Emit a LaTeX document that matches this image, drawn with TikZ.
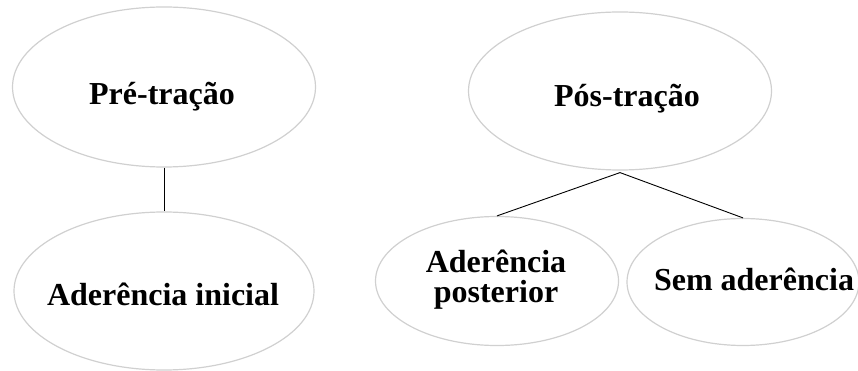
\documentclass[tikz,border=0pt]{standalone}
\usepackage{fontspec}
\setmainfont{Liberation Serif}
\usetikzlibrary{shapes.geometric}
\definecolor{ringgray}{RGB}{208,208,208}
\tikzset{
  oval/.style={ellipse, draw=ringgray, line width=1.2pt, inner sep=0pt},
  lbl/.style={font=\fontsize{32}{30}\selectfont\bfseries, inner sep=0pt, anchor=base, align=center},
  link/.style={draw=black, line width=0.9pt}
}
\begin{document}
\begin{tikzpicture}[x=1pt,y=-1pt]
\useasboundingbox (0,0) rectangle (858,371);
% ellipses
\node[oval, minimum width=303pt, minimum height=160pt] (pre) at (164,87) {};
\node[oval, minimum width=300pt, minimum height=158pt] (ai) at (164,291) {};
\node[oval, minimum width=303pt, minimum height=158pt] (pos) at (620,91) {};
\node[oval, minimum width=243pt, minimum height=129pt] (ap) at (497,281) {};
\node[oval, minimum width=232pt, minimum height=127pt] (sa) at (743,282) {};
% texts
\node[lbl] (preT) at (162,105) {Pré-tração};
\node[lbl] (aiT) at (163,305) {Aderência inicial};
\node[lbl] (posT) at (627,107) {Pós-tração};
\node[lbl] (apT1) at (496,272) {Aderência};
\node[lbl] (apT2) at (496,302) {posterior};
\node[lbl] (saT) at (754,290) {Sem aderência};
% connectors
\coordinate (posB) at ([yshift=-2pt]pos.south);
\draw[link] (pre.south) -- (ai.north);
\draw[link] (posB) -- (ap.north);
\draw[link] (posB) -- (sa.north);
\end{tikzpicture}
\end{document}
